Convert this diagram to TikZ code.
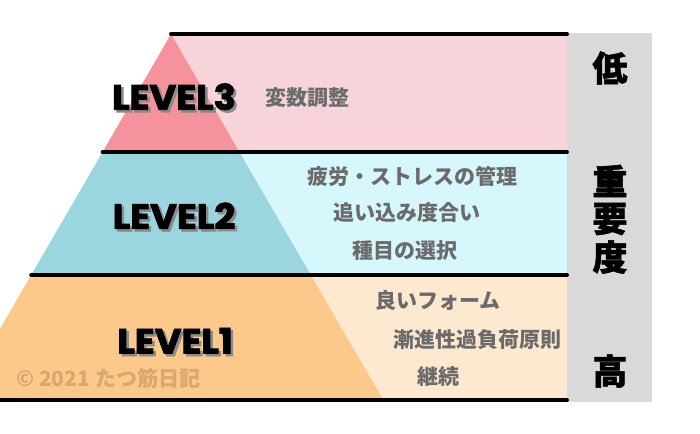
\documentclass[tikz,border=0pt]{standalone}
\usepackage{fontspec}
\newfontfamily\jp{Noto Sans CJK JP}
\newfontfamily\jpheavy{Noto Sans CJK JP}[BoldFeatures={FakeBold=1.5}]
\newfontfamily\lvfont{Poppins}[FakeBold=2.5,FakeStretch=1.05]
\definecolor{pinkD}{HTML}{F5939C}
\definecolor{pinkL}{HTML}{F7D4D9}
\definecolor{blueD}{HTML}{9BD6E0}
\definecolor{blueL}{HTML}{D6F7FC}
\definecolor{orD}{HTML}{FCC98B}
\definecolor{orL}{HTML}{FDE9CF}
\definecolor{barG}{HTML}{D9D9D9}
\definecolor{txtG}{HTML}{6B6B6B}
\definecolor{shadowG}{HTML}{8A8A8A}
\definecolor{copyC}{HTML}{D8A86E}
\tikzset{
  sep/.style={line width=4pt, line cap=round, black},
  item/.style={font=\jp\bfseries\fontsize{21}{21}\selectfont, text=txtG, anchor=west, inner sep=0pt},
  side/.style={font=\jpheavy\bfseries\fontsize{35}{35}\selectfont, text=black, inner sep=0pt},
  lvl/.style={font=\lvfont\bfseries\fontsize{35}{35}\selectfont, text=black, inner sep=0pt},
}
\newcommand{\shadowtext}[1]{%
  \makebox[0pt][l]{\hspace{2.5pt}\raisebox{-2.5pt}{\color{shadowG}#1}}#1}
\begin{document}
\begin{tikzpicture}[x=1pt,y=-1pt]
\useasboundingbox (0,0) rectangle (700,433);
\begin{scope}
\clip (0,0) rectangle (700,433);
% bands
\fill[pinkL] (171,34) -- (567,34) -- (567,152) -- (239.4,152) -- cycle;
\fill[blueL] (239.4,152) -- (567,152) -- (567,275) -- (310.8,275) -- cycle;
\fill[orL] (310.8,275) -- (567,275) -- (567,400) -- (383.3,400) -- cycle;
% pyramid
\fill[pinkD] (171,34) -- (239.4,152) -- (102.6,152) -- cycle;
\fill[blueD] (102.6,152) -- (239.4,152) -- (310.8,275) -- (31.2,275) -- cycle;
\fill[orD] (31.2,275) -- (310.8,275) -- (383.3,400) -- (-41.3,400) -- cycle;
\end{scope}
% importance bar
\fill[barG] (567,33) rectangle (652,402);
% separators
\coordinate (t0) at (171,34);   \coordinate (t1) at (567,34);
\coordinate (a0) at (102.6,152); \coordinate (a1) at (567,152);
\coordinate (b0) at (31.2,275); \coordinate (b1) at (567,275);
\coordinate (c0) at (0,400);    \coordinate (c1) at (567,400);
\draw[sep] (t0) -- (t1);
\draw[sep] (a0) -- (a1);
\draw[sep] (b0) -- (b1);
\draw[sep] (c0) -- (c1);
% level labels
\node[lvl] (l3) at (174,98) {\shadowtext{LEVEL3}};
\node[lvl] (l2) at (174,217) {\shadowtext{LEVEL2}};
\node[lvl] (l1) at (175,342) {\shadowtext{LEVEL1}};
% items
\node[item] (i31) at (265,98) {変数調整};
\node[item] (i21) at (307,176) {疲労・ストレスの管理};
\node[item] (i22) at (333,213) {追い込み度合い};
\node[item] (i23) at (352,251) {種目の選択};
\node[item] (i11) at (375,301) {良いフォーム};
\node[item] (i12) at (393,340) {漸進性過負荷原則};
\node[item] (i13) at (417,377) {継続};
% side column
\node[side] (low) at (610,68) {低};
\node[side] (imp1) at (610,181) {重};
\node[side] (imp2) at (610,219) {要};
\node[side] (imp3) at (610,257) {度};
\node[side] (high) at (610,371) {高};
% copyright
\node[font=\jp\bfseries\fontsize{21}{21}\selectfont, text=copyC, anchor=west, inner sep=0pt] (copy) at (16,378) {© 2021 たつ筋日記};
\end{tikzpicture}
\end{document}
